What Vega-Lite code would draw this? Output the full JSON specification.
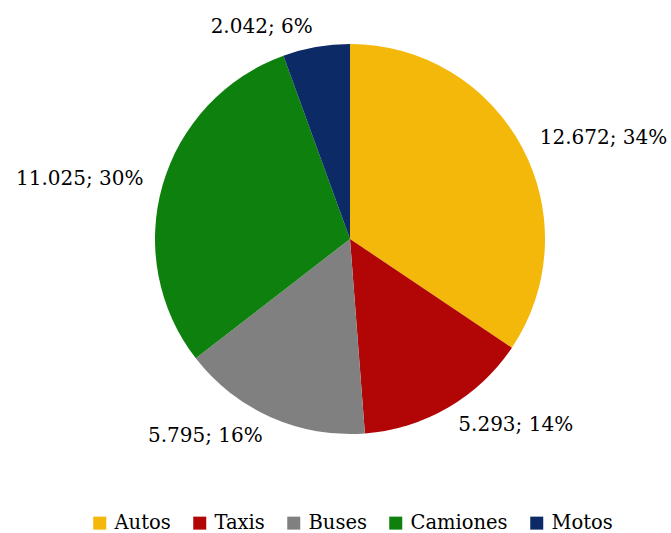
{
  "$schema": "https://vega.github.io/schema/vega-lite/v6.json",
  "width": 700,
  "height": 478,
  "autosize": {"type": "none"},
  "padding": {"left": 0, "top": 0, "right": 0, "bottom": 55},
  "background": "white",
  "config": {"view": {"stroke": null}, "font": "DejaVu Serif"},
  "data": {
    "values": [
      {"tipo": "Autos", "valor": 12672, "idx": 1, "etiqueta": "12.672; 34%"},
      {"tipo": "Taxis", "valor": 5293, "idx": 2, "etiqueta": "5.293; 14%"},
      {"tipo": "Buses", "valor": 5795, "idx": 3, "etiqueta": "5.795; 16%"},
      {"tipo": "Camiones", "valor": 11025, "idx": 4, "etiqueta": "11.025; 30%"},
      {"tipo": "Motos", "valor": 2042, "idx": 5, "etiqueta": "2.042; 6%"}
    ]
  },
  "encoding": {
    "theta": {"field": "valor", "type": "quantitative", "stack": true},
    "order": {"field": "idx", "type": "quantitative"}
  },
  "layer": [
    {
      "mark": {"type": "arc", "outerRadius": 195, "strokeWidth": 0},
      "encoding": {
        "color": {
          "field": "tipo",
          "type": "nominal",
          "sort": null,
          "scale": {
            "domain": ["Autos", "Taxis", "Buses", "Camiones", "Motos"],
            "range": ["#F3B80A", "#B20606", "#808080", "#0E800E", "#0B2A66"]
          },
          "legend": {
            "title": null,
            "orient": "none",
            "legendX": 90,
            "legendY": 513,
            "direction": "horizontal",
            "columns": 5,
            "symbolType": "square",
            "symbolSize": 169,
            "symbolStrokeWidth": 0,
            "labelFont": "DejaVu Serif",
            "labelFontSize": 19.5,
            "labelColor": "black",
            "labelOffset": 5,
            "columnPadding": 19,
            "padding": 0
          }
        }
      }
    },
    {
      "mark": {"type": "text", "radius": 215, "align": "left", "baseline": "middle", "fontSize": 20, "font": "DejaVu Serif"},
      "encoding": {
        "color": {"value": "black"},
        "text": {"condition": {"test": "datum.tipo == 'Autos' || datum.tipo == 'Taxis'", "field": "etiqueta"}, "value": ""}
      }
    },
    {
      "mark": {"type": "text", "radius": 215, "align": "right", "baseline": "middle", "fontSize": 20, "font": "DejaVu Serif"},
      "encoding": {
        "color": {"value": "black"},
        "text": {"condition": {"test": "datum.tipo != 'Autos' && datum.tipo != 'Taxis'", "field": "etiqueta"}, "value": ""}
      }
    }
  ]
}
